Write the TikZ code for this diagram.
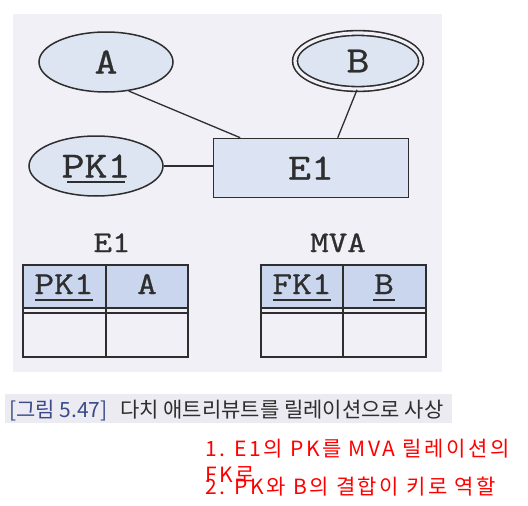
\documentclass[tikz,border=0pt]{standalone}
\usepackage{fontspec}
\usetikzlibrary{shapes.geometric,calc}
\newfontfamily\ermono{Latin Modern Mono}[FakeBold=0.9, FakeStretch=1.2]
\newfontfamily\krfont{Noto Sans CJK KR}
\newfontfamily\krnote{Noto Sans CJK KR}[LetterSpace=12]
\definecolor{panelbg}{HTML}{F1F0F6}
\definecolor{ellfill}{HTML}{DDE5F2}
\definecolor{boxfill}{HTML}{DCE4F4}
\definecolor{hdrfill}{HTML}{C9D6EE}
\definecolor{capbg}{HTML}{EBEBF1}
\definecolor{capblue}{HTML}{3A4A8A}
\definecolor{inkgray}{HTML}{2E2E2E}
\begin{document}
\begin{tikzpicture}[x=1pt,y=-1pt,
  attr/.style={ellipse, draw=inkgray, line width=1.5pt, fill=ellfill, inner sep=0pt,
    minimum width=134pt, minimum height=60pt, font=\ermono\fontsize{37}{40}\selectfont, text=inkgray},
  mvattr/.style={ellipse, draw=inkgray, line width=1.6pt, double=panelbg, double distance=3.2pt,
    fill=ellfill, inner sep=0pt, minimum width=126pt, minimum height=56pt,
    font=\ermono\fontsize{37}{40}\selectfont, text=inkgray},
  entity/.style={rectangle, draw=inkgray, line width=1.6pt, fill=boxfill, inner sep=0pt,
    minimum width=195pt, minimum height=59pt, font=\ermono\fontsize{37}{40}\selectfont, text=inkgray},
  conn/.style={draw=inkgray, line width=1.3pt},
  celltxt/.style={inner sep=0pt, anchor=base, font=\ermono\fontsize{32}{38}\selectfont, text=inkgray},
  ttltxt/.style={inner sep=0pt, anchor=base, font=\ermono\fontsize{30}{36}\selectfont, text=inkgray},
  tline/.style={draw=inkgray, line width=1.6pt},
  uline/.style={draw=inkgray, line width=1.5pt},
  redtxt/.style={inner sep=0pt, anchor=base west, text=red, font=\krnote\fontsize{21}{24}\selectfont}
]
\useasboundingbox (0,0) rectangle (528,506);
% panel
\fill[panelbg] (13,14) rectangle (442,372);
% ER part
\node[attr] (A) at (106,62) {A};
\node[mvattr] (B) at (358,61) {B};
\node[attr] (PK) at (96,166) {PK1};
\node[entity] (E1) at (311,168) {E1};
\draw[uline] (67,182) -- (125,182);
\draw[conn] (A.-52) -- ($(E1.north west)!0.14!(E1.north east)$);
\draw[conn] (B.-92) -- ($(E1.north west)!0.636!(E1.north east)$);
\draw[conn] (PK.east) -- (E1.west |- PK.east);
% tables titles
\node[ttltxt] (t1) at (112,252) {E1};
\node[ttltxt] (t2) at (338,252) {MVA};
% table E1
\fill[hdrfill] (23,265) rectangle (188,309);
\draw[tline] (23,265) rectangle (188,357);
\draw[tline] (106,265) -- (106,357);
\draw[tline] (23,308) -- (188,308);
\draw[tline] (23,313) -- (188,313);
\node[celltxt] (c11) at (64,294) {PK1};
\node[celltxt] (c12) at (147,294) {A};
\draw[uline] (c11.base west)++(1,6) -- ($(c11.base east)+(-1,6)$);
% table MVA
\fill[hdrfill] (261,265) rectangle (426,309);
\draw[tline] (261,265) rectangle (426,357);
\draw[tline] (343,265) -- (343,357);
\draw[tline] (261,308) -- (426,308);
\draw[tline] (261,313) -- (426,313);
\node[celltxt] (c21) at (302,294) {FK1};
\node[celltxt] (c22) at (384,294) {B};
\draw[uline] (c21.base west)++(1,6) -- ($(c21.base east)+(-1,6)$);
\draw[uline] (c22.base west)++(-1,6) -- ($(c22.base east)+(1,6)$);
% caption
\fill[capbg] (5,394) rectangle (452,423);
\node[inner sep=0pt, anchor=base west, font=\krfont\fontsize{21}{24}\selectfont] (cap) at (9,417)
  {\textcolor{capblue}{[그림 5.47]}\hspace{0.6em}\textcolor{inkgray}{다치 애트리뷰트를 릴레이션으로 사상}};
% red notes
\node[redtxt] (n1) at (205,456) {1. E1의 PK를 MVA 릴레이션의};
\node[redtxt] (n1b) at (205,482) {FK로};
\node[redtxt] (n2) at (205,494) {2. PK와 B의 결합이 키로 역할};
\end{tikzpicture}
\end{document}
